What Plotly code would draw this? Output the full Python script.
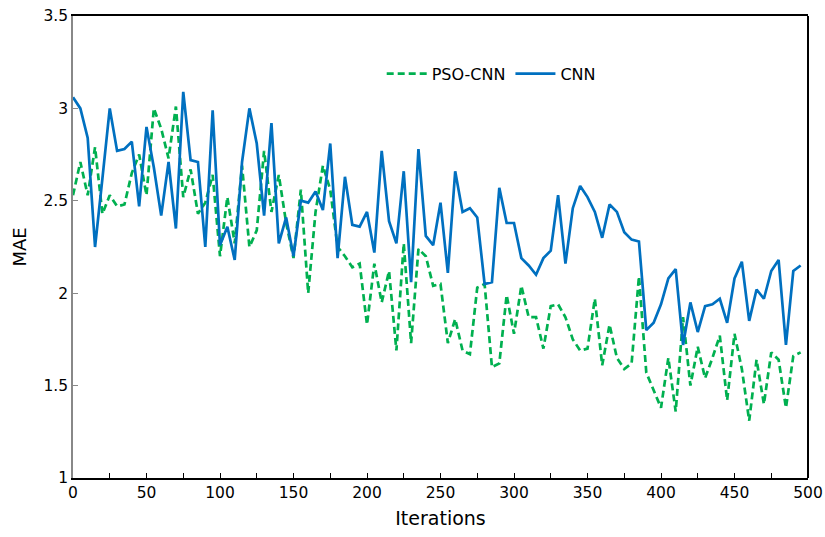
import plotly.graph_objects as go

# iterations sampled every 5 steps
iterations = list(range(0, 500, 5))

pso_cnn = [
    2.53, 2.71, 2.53, 2.79, 2.43, 2.53, 2.47, 2.48, 2.65, 2.75,
    2.53, 3.00, 2.89, 2.73, 3.01, 2.52, 2.67, 2.43, 2.49, 2.64,
    2.20, 2.52, 2.27, 2.69, 2.25, 2.34, 2.77, 2.44, 2.64, 2.38,
    2.19, 2.56, 2.00, 2.44, 2.69, 2.56, 2.25, 2.20, 2.14, 2.16,
    1.83, 2.16, 1.95, 2.12, 1.69, 2.27, 1.73, 2.24, 2.20, 2.04,
    2.05, 1.73, 1.86, 1.69, 1.67, 2.03, 2.05, 1.60, 1.62, 1.99,
    1.78, 2.04, 1.87, 1.87, 1.70, 1.93, 1.94, 1.87, 1.75, 1.69,
    1.70, 1.97, 1.61, 1.83, 1.65, 1.59, 1.62, 2.09, 1.57, 1.48,
    1.38, 1.65, 1.36, 1.87, 1.50, 1.71, 1.54, 1.65, 1.77, 1.42,
    1.78, 1.59, 1.31, 1.64, 1.40, 1.68, 1.64, 1.38, 1.66, 1.68,
]

cnn = [
    3.06, 3.00, 2.84, 2.25, 2.62, 3.00, 2.77, 2.78, 2.82, 2.47,
    2.90, 2.68, 2.42, 2.71, 2.35, 3.09, 2.72, 2.71, 2.25, 2.99,
    2.26, 2.36, 2.18, 2.71, 3.00, 2.81, 2.42, 2.92, 2.27, 2.41,
    2.20, 2.50, 2.49, 2.55, 2.45, 2.81, 2.19, 2.63, 2.37, 2.36,
    2.44, 2.22, 2.77, 2.39, 2.27, 2.66, 2.06, 2.78, 2.31, 2.26,
    2.49, 2.11, 2.66, 2.44, 2.46, 2.41, 2.05, 2.06, 2.57, 2.38,
    2.38, 2.19, 2.15, 2.10, 2.19, 2.23, 2.53, 2.16, 2.46, 2.58,
    2.52, 2.44, 2.30, 2.48, 2.44, 2.33, 2.29, 2.28, 1.80, 1.84,
    1.94, 2.08, 2.13, 1.72, 1.95, 1.79, 1.93, 1.94, 1.97, 1.84,
    2.08, 2.17, 1.85, 2.02, 1.97, 2.12, 2.18, 1.72, 2.12, 2.15,
]

FONT = "Verdana, DejaVu Sans, sans-serif"

fig = go.Figure()
fig.add_trace(go.Scatter(
    x=iterations, y=pso_cnn, name="PSO-CNN", mode="lines",
    line=dict(color="#00B050", width=2.7, dash="7px,4px"),
))
fig.add_trace(go.Scatter(
    x=iterations, y=cnn, name="CNN", mode="lines",
    line=dict(color="#0070C0", width=2.7),
))

fig.update_layout(
    width=825, height=537,
    margin=dict(l=73, r=17, t=16, b=59),
    paper_bgcolor="white", plot_bgcolor="white",
    font=dict(family=FONT, size=15.5, color="black"),
    legend=dict(
        orientation="h", x=0.42, y=0.875, xanchor="left", yanchor="middle",
        bgcolor="rgba(0,0,0,0)", font=dict(size=16), itemwidth=40,
    ),
)

fig.update_xaxes(
    range=[0, 500], dtick=50, showgrid=False, zeroline=False, automargin=False,
    showline=True, linecolor="black", linewidth=1.5, mirror=True,
    ticks="inside", ticklen=5, tickcolor="black", ticklabeloverflow="allow",
    minor=dict(dtick=25, ticks="inside", ticklen=5, tickcolor="black"),
    title=dict(text="Iterations", font=dict(size=19), standoff=10),
)
fig.update_yaxes(
    range=[1, 3.5], dtick=0.5, showgrid=False, zeroline=False, automargin=False,
    showline=True, linecolor="#888888", linewidth=1.5,
    ticks="inside", ticklen=5, tickcolor="#888888", ticklabeloverflow="allow",
    title=dict(text="MAE", font=dict(size=18), standoff=12),
)

# black right border of the plot frame
fig.add_shape(type="line", xref="paper", yref="paper", x0=1, x1=1, y0=0, y1=1,
              line=dict(color="black", width=2))

# drop the default 8px page margin so the figure fills the window
fig.write_html("out.html", config={"displayModeBar": False},
               post_script="document.body.style.margin='0';")
